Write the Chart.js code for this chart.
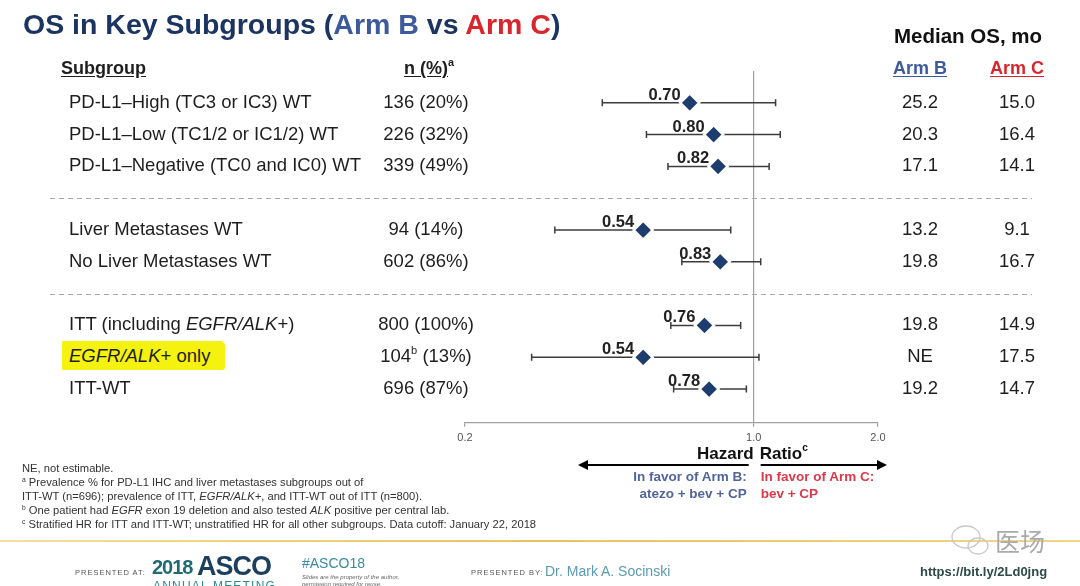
<!DOCTYPE html>
<html>
<head>
<meta charset="utf-8">
<script src="https://cdn.jsdelivr.net/npm/chart.js@4.4.1/dist/chart.umd.min.js"></script>
<style>
  body { margin: 0; background: #fff; }
  #slide { position: relative; width: 1080px; height: 586px; overflow: hidden; background: #fff;
           font-family: 'Liberation Sans', Arial, sans-serif; color: #1e1e1e; }
  #c { position: absolute; left: 0; top: 0; }
  .t { position: absolute; white-space: nowrap; line-height: 1; }
  .u { text-decoration: underline; text-underline-offset: 2px; }
  sup { font-size: 0.6em; vertical-align: 0.7em; line-height: 0; }
</style>
</head>
<body>
<div id="slide">
  <canvas id="c" width="1080" height="586"></canvas>
</div>
<script>
// rows of the forest plot
const subgroups = [
  'PD-L1–High (TC3 or IC3) WT',
  'PD-L1–Low (TC1/2 or IC1/2) WT',
  'PD-L1–Negative (TC0 and IC0) WT',
  'Liver Metastases WT',
  'No Liver Metastases WT',
  'ITT (including <i>EGFR/ALK</i>+)',
  '<i>EGFR/ALK</i>+ only',
  'ITT-WT'
];
const nPct = ['136 (20%)', '226 (32%)', '339 (49%)', '94 (14%)', '602 (86%)', '800 (100%)', '104<sup>b</sup> (13%)', '696 (87%)'];
const hr     = [0.70, 0.80, 0.82, 0.54, 0.83, 0.76, 0.54, 0.78];
const ciLow  = [0.43, 0.55, 0.62, 0.33, 0.67, 0.63, 0.29, 0.64];
const ciHigh = [1.13, 1.16, 1.09, 0.88, 1.04, 0.93, 1.03, 0.96];
const medianB = ['25.2', '20.3', '17.1', '13.2', '19.8', '19.8', 'NE', '19.2'];
const medianC = ['15.0', '16.4', '14.1', '9.1', '16.7', '14.9', '17.5', '14.7'];
const rowPos = [0, 1, 2, 4, 5, 7, 8, 9];     // slot of each row, gaps hold the dashed dividers
const dividerPos = [3, 6];
const hrTicks = [0.2, 1, 2];

const footnotes = [
  'NE, not estimable.',
  '<sup>a</sup> Prevalence % for PD-L1 IHC and liver metastases subgroups out of',
  'ITT-WT (n=696); prevalence of ITT, <i>EGFR/ALK+</i>, and ITT-WT out of ITT (n=800).',
  '<sup>b</sup> One patient had <i>EGFR</i> exon 19 deletion and also tested <i>ALK</i> positive per central lab.',
  '<sup>c</sup> Stratified HR for ITT and ITT-WT; unstratified HR for all other subgroups. Data cutoff: January 22, 2018'
];

const NAVY = '#1b3461', BLUE = '#3d5a9b', RED = '#d8262d';

function arrow(ctx, from, to, y) {
  const dir = Math.sign(to - from);
  ctx.beginPath(); ctx.moveTo(from, y); ctx.lineTo(to - dir * 6, y); ctx.stroke();
  ctx.beginPath(); ctx.moveTo(to, y); ctx.lineTo(to - dir * 10, y - 5); ctx.lineTo(to - dir * 10, y + 5); ctx.closePath(); ctx.fill();
}

const decor = {
  id: 'decor',
  afterDraw(chart) {
    const { ctx, scales: { x, y } } = chart;
    ctx.save();
    ctx.strokeStyle = '#a8a8a8';
    ctx.lineWidth = 1;
    ctx.setLineDash([5, 4]);
    dividerPos.forEach(p => {
      const py = Math.round(y.getPixelForValue(p)) + 0.5;
      ctx.beginPath(); ctx.moveTo(50, py); ctx.lineTo(1032, py); ctx.stroke();
    });
    ctx.setLineDash([]);
    const x1 = x.getPixelForValue(1);
    ctx.strokeStyle = '#000'; ctx.fillStyle = '#000'; ctx.lineWidth = 2;
    arrow(ctx, x1 - 5, 578, 465);
    arrow(ctx, x1 + 7, 887, 465);
    // yellow rule above the footer
    const g = ctx.createLinearGradient(0, 0, 1080, 0);
    g.addColorStop(0, '#f3df9c'); g.addColorStop(0.5, '#e6c35e'); g.addColorStop(1, '#efd68a');
    ctx.fillStyle = g;
    ctx.fillRect(0, 540, 1080, 2);
    // watermark bubbles
    ctx.strokeStyle = '#c8c8c8'; ctx.lineWidth = 1.3;
    ctx.beginPath(); ctx.ellipse(966, 537, 14, 11, 0, 0, Math.PI * 2); ctx.stroke();
    ctx.beginPath(); ctx.ellipse(978, 546, 10, 8, 0, 0, Math.PI * 2); ctx.stroke();
    ctx.restore();
  }
};

const ciSets = hr.map((v, i) => ({
  type: 'line',
  data: [{ x: ciLow[i], y: rowPos[i] }, { x: ciHigh[i], y: rowPos[i] }],
  borderColor: '#3c3c3c',
  borderWidth: 1.5,
  pointStyle: 'line',
  pointRotation: 90,
  pointRadius: 3.5,
  pointBorderColor: '#3c3c3c',
  pointBorderWidth: 1.5,
  order: 2
}));

const chart = new Chart(document.getElementById('c'), {
  type: 'scatter',
  data: {
    datasets: [{
      data: hr.map((v, i) => ({ x: v, y: rowPos[i] })),
      pointStyle: 'rectRot',
      pointRadius: 9.5,
      backgroundColor: '#1d3d6f',
      borderColor: '#fff',
      borderWidth: 2.5,
      order: 1
    }, ...ciSets]
  },
  options: {
    responsive: false,
    animation: false,
    events: [],
    layout: { padding: { left: 465, right: 202, top: 71, bottom: 136 } },
    plugins: { legend: { display: false }, tooltip: { enabled: false } },
    scales: {
      x: {
        type: 'logarithmic',
        min: 0.2,
        max: 2,
        afterBuildTicks: axis => { axis.ticks = hrTicks.map(v => ({ value: v })); },
        ticks: {
          autoSkip: false,
          padding: 5,
          color: '#555',
          font: { family: 'Liberation Sans', size: 11 },
          callback: v => Number(v).toFixed(1)
        },
        grid: {
          color: c => (c.tick && c.tick.value === 1 ? '#a0a0a0' : 'rgba(0,0,0,0)'),
          tickColor: '#a0a0a0',
          tickLength: 4,
          lineWidth: 1.2
        },
        border: { display: true, color: '#a0a0a0', width: 1.2 }
      },
      y: { type: 'linear', reverse: true, min: -1, max: 10.06, display: false }
    }
  },
  plugins: [decor]
});

// text of the slide, placed against the chart scales
const slide = document.getElementById('slide');
function put(html, x, y, css, anchor) {
  const d = document.createElement('div');
  d.className = 't';
  d.innerHTML = html;
  const ax = anchor === 'c' ? '-50%' : anchor === 'r' ? '-100%' : '0';
  d.style.cssText = `left:${x}px;top:${y}px;transform:translate(${ax},-50%);` + (css || '');
  slide.appendChild(d);
  return d;
}

put(`<span style="color:${NAVY}">OS in Key Subgroups (</span><span style="color:${BLUE}">Arm B</span><span style="color:${NAVY}"> vs </span><span style="color:${RED}">Arm C</span><span style="color:${NAVY}">)</span>`,
    23, 24, 'font-size:28.5px;font-weight:bold;');
put('Median OS, mo', 968, 36, 'font-size:20.5px;font-weight:bold;color:#111;', 'c');
put('Subgroup', 61, 68, 'font-size:18px;font-weight:bold;').classList.add('u');
put('<span class="u">n (%)</span><sup>a</sup>', 404, 68, 'font-size:18px;font-weight:bold;');
put('Arm B', 920, 68, `font-size:18px;font-weight:bold;color:${BLUE};`, 'c').classList.add('u');
put('Arm C', 1017, 68, `font-size:18px;font-weight:bold;color:${RED};`, 'c').classList.add('u');

const ys = chart.scales.y, xs = chart.scales.x;
subgroups.forEach((s, i) => {
  const py = ys.getPixelForValue(rowPos[i]) - 1;
  if (i === 6) {
    const hl = document.createElement('div');
    hl.style.cssText = `position:absolute;left:62px;top:${py - 15}px;width:163px;height:29px;background:#f4f20e;border-radius:1px 5px 3px 1px;`;
    slide.appendChild(hl);
  }
  put(s, 69, py, 'font-size:18.5px;');
  put(nPct[i], 426, py, 'font-size:18.5px;', 'c');
  put(medianB[i], 920, py, 'font-size:18.5px;', 'c');
  put(medianC[i], 1017, py, 'font-size:18.5px;', 'c');
  put(hr[i].toFixed(2), xs.getPixelForValue(hr[i]) - 9, ys.getPixelForValue(rowPos[i]) - 9,
      'font-size:16.5px;font-weight:bold;color:#222;', 'r');
});

const x1 = xs.getPixelForValue(1);
put('Hazard', x1, 453, 'font-size:17px;font-weight:bold;color:#111;', 'r');
put('Ratio<sup>c</sup>', x1 + 6, 453, 'font-size:17px;font-weight:bold;color:#111;');
put('In favor of Arm B:', x1 - 7, 477, `font-size:13.5px;font-weight:bold;color:#52659a;`, 'r');
put('atezo + bev + CP', x1 - 7, 494, `font-size:13.5px;font-weight:bold;color:#52659a;`, 'r');
put('In favor of Arm C:', x1 + 7, 477, `font-size:13.5px;font-weight:bold;color:#d83a4c;`);
put('bev + CP', x1 + 7, 494, `font-size:13.5px;font-weight:bold;color:#d83a4c;`);

footnotes.forEach((f, i) => put(f, 22, 469 + i * 14, 'font-size:11.2px;color:#333;'));

// footer
put('PRESENTED AT:', 75, 573, 'font-size:7.5px;letter-spacing:1px;color:#555;');
put('2018', 152, 567, 'font-size:20px;font-weight:bold;color:#1f6a73;letter-spacing:-1px;');
put('ASCO', 197, 566, 'font-size:27px;font-weight:bold;color:#1c3f5e;letter-spacing:-1px;');
put('ANNUAL MEETING', 153, 586, 'font-size:12px;color:#2a8a93;letter-spacing:1.2px;');
put('#ASCO18', 302, 563, 'font-size:14px;color:#3a8a9e;');
put('Slides are the property of the author,', 302, 577, 'font-size:6px;font-style:italic;color:#666;');
put('permission required for reuse.', 302, 584, 'font-size:6px;font-style:italic;color:#666;');
put('PRESENTED BY:', 471, 573, 'font-size:7.5px;letter-spacing:1px;color:#555;');
put('Dr. Mark A. Socinski', 545, 571, 'font-size:14px;color:#5b9ab4;');
put('https://bit.ly/2Ld0jng', 920, 571, 'font-size:13px;font-weight:bold;color:#2e4a45;');
put('医场', 995, 540, "font-size:25px;color:#aaa;font-family:'Noto Sans CJK SC';");
</script>
</body>
</html>
